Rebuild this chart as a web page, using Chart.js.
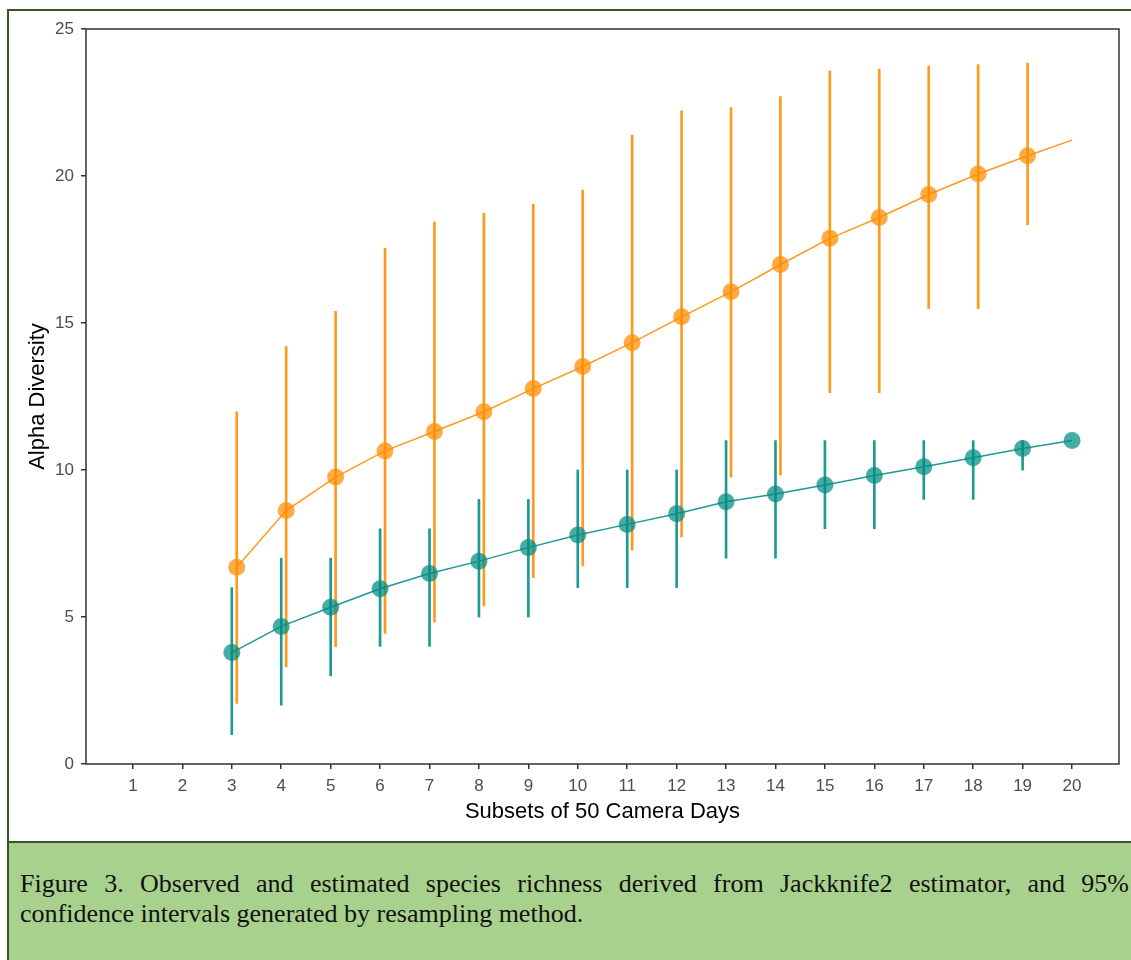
<!DOCTYPE html>
<html>
<head>
<meta charset="utf-8">
<script src="https://cdn.jsdelivr.net/npm/chart.js@4.4.1/dist/chart.umd.min.js"></script>
<style>
    body { margin: 0; background: #fff; width: 1131px; height: 960px; overflow: hidden; position: relative; }
    #chartBox { position: absolute; left: 0; top: 0; width: 1131px; height: 842px; }
    #frame { position: absolute; left: 7px; top: 9px; width: 1140px; height: 960px; border: 2px solid #375623; pointer-events: none; }
    #caption {
        position: absolute; left: 7px; top: 841px; width: 1109px; height: 130px;
        background: #a9d18e; border-top: 2px solid #375623; border-left: 2px solid #375623;
        padding: 26px 20px 0 11px;
        font-family: "Liberation Serif", "Times New Roman", serif; font-size: 26px; line-height: 30px;
        color: #111; text-align: justify;
    }
</style>
</head>
<body>
<div id="chartBox"><canvas id="chart" width="1131" height="842"></canvas></div>
<div id="frame"></div>
<div id="caption">Figure 3. Observed and estimated species richness derived from Jackknife2 estimator, and 95% confidence intervals generated by resampling method.</div>

<script>
// ================= DATA =================
const subsets = [3, 4, 5, 6, 7, 8, 9, 10, 11, 12, 13, 14, 15, 16, 17, 18, 19, 20];

// observed richness (teal)
const observed = [3.79, 4.68, 5.33, 5.96, 6.48, 6.90, 7.36, 7.79, 8.15, 8.51, 8.92, 9.18, 9.49, 9.81, 10.11, 10.42, 10.73, 11.0];
const observedLow = [1, 2, 3, 4, 4, 5, 5, 6, 6, 6, 7, 7, 8, 8, 9, 9, 10];
const observedHigh = [6, 7, 7, 8, 8, 9, 9, 10, 10, 10, 11, 11, 11, 11, 11, 11, 11];

// Jackknife2 estimate (orange) - last value is line only, no point
const estimated = [6.69, 8.62, 9.76, 10.65, 11.31, 11.98, 12.77, 13.52, 14.33, 15.21, 16.06, 16.99, 17.88, 18.59, 19.37, 20.07, 20.69, 21.22];
const estimatedLow = [2.06, 3.31, 3.99, 4.44, 4.82, 5.38, 6.34, 6.74, 7.27, 7.72, 9.76, 9.83, 12.63, 12.63, 15.49, 15.49, 18.34];
const estimatedHigh = [11.98, 14.2, 15.4, 17.54, 18.43, 18.73, 19.04, 19.52, 21.39, 22.22, 22.33, 22.7, 23.58, 23.64, 23.74, 23.79, 23.84];
const estimatedDodge = 0.1;

const xTicks = [1, 2, 3, 4, 5, 6, 7, 8, 9, 10, 11, 12, 13, 14, 15, 16, 17, 18, 19, 20];
const yTicks = [0, 5, 10, 15, 20, 25];

// ================= STYLE =================
const teal = "#1e9a93";
const tealFill = "rgba(0,140,130,0.72)";
const orange = "#ff9a1c";
const orangeFill = "rgba(255,140,0,0.72)";
const axisGrey = "#333333";
const tickGrey = "#4d4d4d";

// ================= BUILD SERIES =================
const estX = subsets.map((s, i) => i < estimatedLow.length ? s + estimatedDodge : s);

const tealPts = subsets.map((s, i) => ({ x: s, y: observed[i] }));
const orangePts = subsets.map((s, i) => ({ x: estX[i], y: estimated[i] }));
const tealBars = observedLow.map((lo, i) => ({ x: subsets[i], y: [lo, observedHigh[i]] }));
const orangeBars = estimatedLow.map((lo, i) => ({ x: estX[i], y: [lo, estimatedHigh[i]] }));

const boxPlugin = {
    id: "panelBox",
    afterDraw(chart) {
        const a = chart.chartArea, c = chart.ctx;
        c.save();
        c.strokeStyle = axisGrey;
        c.lineWidth = 1.5;
        c.strokeRect(a.left, a.top, a.right - a.left, a.bottom - a.top);
        c.restore();
    }
};

new Chart(document.getElementById("chart"), {
    type: "line",
    data: {
        datasets: [
            { type: "bar", data: orangeBars, backgroundColor: orange, barThickness: 2, grouped: false, order: 5 },
            { type: "bar", data: tealBars, backgroundColor: teal, barThickness: 2, grouped: false, order: 4 },
            {
                data: orangePts, borderColor: orange, borderWidth: 1.5, tension: 0,
                pointRadius: subsets.map((s, i) => i < estimatedLow.length ? 8.5 : 0),
                pointBackgroundColor: orangeFill, pointBorderWidth: 0, order: 2
            },
            {
                data: tealPts, borderColor: teal, borderWidth: 1.5, tension: 0,
                pointRadius: 8.5, pointBackgroundColor: tealFill, pointBorderWidth: 0, order: 1
            }
        ]
    },
    options: {
        responsive: false,
        animation: false,
        devicePixelRatio: 1,
        layout: { padding: { left: 0, top: 29, right: 12, bottom: 0 } },
        plugins: { legend: { display: false }, tooltip: { enabled: false } },
        scales: {
            x: {
                type: "linear", min: 0.05, max: 20.95, offset: false,
                afterBuildTicks: s => { s.ticks = xTicks.map(v => ({ value: v })); },
                afterFit: s => { s.height = 78; },
                ticks: { color: tickGrey, font: { family: "Liberation Sans", size: 17 }, padding: 7, maxRotation: 0, autoSkip: false },
                grid: { offset: false, drawOnChartArea: false, drawTicks: true, tickLength: 5, color: axisGrey, lineWidth: 1.5 },
                border: { display: false },
                title: { display: true, text: "Subsets of 50 Camera Days", color: "#000", font: { family: "Liberation Sans", size: 22 }, padding: { top: 0, bottom: 17 } }
            },
            y: {
                type: "linear", min: 0, max: 25,
                afterBuildTicks: s => { s.ticks = yTicks.map(v => ({ value: v })); },
                afterFit: s => { s.width = 86; },
                ticks: { color: tickGrey, font: { family: "Liberation Sans", size: 17 }, padding: 7 },
                grid: { drawOnChartArea: false, drawTicks: true, tickLength: 5, color: axisGrey, lineWidth: 1.5 },
                border: { display: false },
                title: { display: true, text: "Alpha Diversity", color: "#000", font: { family: "Liberation Sans", size: 22 }, padding: { top: 25, bottom: 0 } }
            }
        }
    },
    plugins: [boxPlugin]
});
</script>
</body>
</html>
